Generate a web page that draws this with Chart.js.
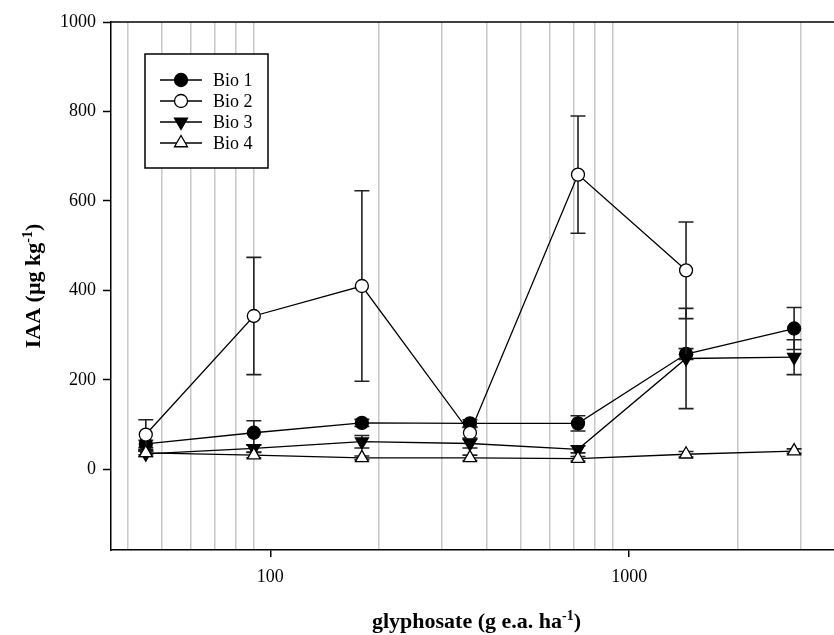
<!DOCTYPE html>
<html>
<head>
<meta charset="utf-8">
<title>IAA vs glyphosate</title>
<script src="https://cdn.jsdelivr.net/npm/chart.js@4.4.1/dist/chart.umd.min.js"></script>
<style>
  html, body { margin: 0; padding: 0; background: #fff; }
  canvas { display: block; }
</style>
</head>
<body>
<canvas id="iaaChart" width="834" height="635"></canvas>
<script>
const SERIF = '"Liberation Serif", "Times New Roman", Times, serif';

// glyphosate doses (g e.a. ha-1)
const doses = [45, 90, 180, 360, 720, 1440, 2880];

// IAA (ug kg-1) per biotype and its error
const bio1 = [57, 82, 104, 103, 103, 258, 315];
const bio1Err = [8, 27, 8, 8, 17, 12, 47];
const bio2 = [78, 343, 410, 82, 659, 445, null];
const bio2Err = [33, 131, 213, 12, 131, 108, null];
const bio3 = [35, 47, 62, 58, 45, 248, 251];
const bio3Err = [6, 8, 14, 10, 8, 112, 39];
const bio4 = [37, 32, 26, 26, 24, 34, 41];
const bio4Err = [4, 6, 4, 6, 5, 6, 5];

// axis ticks
const xGridValues = [40, 50, 60, 70, 80, 90, 100, 200, 300, 400, 500, 600, 700, 800, 900, 1000, 2000, 3000];
const xLabelValues = [100, 1000];
const yTickValues = [0, 200, 400, 600, 800, 1000];

const toPoints = values => doses.map((d, i) => ({ x: d, y: values[i] }));

function series(label, values, errors, style, filled, order) {
  return {
    label: label,
    data: toPoints(values),
    errorBars: errors,
    order: order,
    borderColor: '#000',
    borderWidth: 1.3,
    fill: false,
    tension: 0,
    pointStyle: style.shape,
    pointRotation: style.rotation,
    pointRadius: style.radius,
    pointHoverRadius: style.radius,
    pointBackgroundColor: filled ? '#000' : '#fff',
    pointBorderColor: '#000',
    pointBorderWidth: 1.3
  };
}

const circle = { shape: 'circle', rotation: 0, radius: 6.5 };
const triUp = { shape: 'triangle', rotation: 0, radius: 7.5 };
const triDown = { shape: 'triangle', rotation: 180, radius: 7.5 };

// vertical error bars, drawn just before each series so its markers sit on top
const errorBarPlugin = {
  id: 'errorBars',
  beforeDatasetDraw(chart, args) {
    const ds = chart.data.datasets[args.index];
    if (!ds.errorBars) return;
    const { ctx, scales: { x, y } } = chart;
    const cap = 7.5;
    ctx.save();
    ctx.strokeStyle = '#222';
    ctx.lineWidth = 1.6;
    ds.data.forEach((p, i) => {
      const err = ds.errorBars[i];
      if (p.y == null || err == null) return;
      const px = x.getPixelForValue(p.x);
      const top = y.getPixelForValue(p.y + err);
      const bot = y.getPixelForValue(p.y - err);
      ctx.beginPath();
      ctx.moveTo(px, top);
      ctx.lineTo(px, bot);
      ctx.moveTo(px - cap, top);
      ctx.lineTo(px + cap, top);
      ctx.moveTo(px - cap, bot);
      ctx.lineTo(px + cap, bot);
      ctx.stroke();
    });
    ctx.restore();
  }
};

// top edge of the plot frame
const framePlugin = {
  id: 'frameTop',
  afterDraw(chart) {
    const { ctx, chartArea: a } = chart;
    ctx.save();
    ctx.strokeStyle = '#000';
    ctx.lineWidth = 1.5;
    ctx.beginPath();
    ctx.moveTo(a.left, a.top);
    ctx.lineTo(a.right, a.top);
    ctx.stroke();
    ctx.restore();
  }
};

// text with a superscript part, centred on (x, y)
function drawRich(ctx, parts, x, y, size) {
  const base = 'bold ' + size + 'px ' + SERIF;
  const small = 'bold ' + Math.round(size * 0.62) + 'px ' + SERIF;
  let total = 0;
  parts.forEach(p => {
    ctx.font = p.sup ? small : base;
    p.w = ctx.measureText(p.text).width;
    total += p.w;
  });
  let cx = x - total / 2;
  ctx.textAlign = 'left';
  ctx.textBaseline = 'alphabetic';
  parts.forEach(p => {
    ctx.font = p.sup ? small : base;
    ctx.fillText(p.text, cx, p.sup ? y - size * 0.38 : y);
    cx += p.w;
  });
}

const axisTitlePlugin = {
  id: 'axisTitles',
  afterDraw(chart) {
    const { ctx, chartArea: a } = chart;
    ctx.save();
    ctx.fillStyle = '#000';
    drawRich(ctx, [
      { text: 'glyphosate (g e.a. ha' }, { text: '-1', sup: true }, { text: ')' }
    ], (a.left + a.right) / 2 + 4, 628, 22);
    ctx.translate(40, (a.top + a.bottom) / 2);
    ctx.rotate(-Math.PI / 2);
    drawRich(ctx, [
      { text: 'IAA (\u00b5g kg' }, { text: '-1', sup: true }, { text: ')' }
    ], 0, 0, 22);
    ctx.restore();
  }
};

// boxed legend in the upper-left corner of the plot
const legendBoxPlugin = {
  id: 'legendBox',
  afterDraw(chart) {
    const { ctx, chartArea: a } = chart;
    const left = a.left + 34, top = a.top + 32, w = 123, h = 114;
    ctx.save();
    ctx.fillStyle = '#fff';
    ctx.fillRect(left, top, w, h);
    ctx.strokeStyle = '#000';
    ctx.lineWidth = 1.5;
    ctx.strokeRect(left, top, w, h);
    chart.data.datasets.forEach((ds, i) => {
      const yy = top + 26 + 21 * i;
      ctx.strokeStyle = '#000';
      ctx.lineWidth = 1.3;
      ctx.beginPath();
      ctx.moveTo(left + 15, yy);
      ctx.lineTo(left + 57, yy);
      ctx.stroke();
      ctx.fillStyle = ds.pointBackgroundColor;
      Chart.helpers.drawPoint(ctx, {
        pointStyle: ds.pointStyle,
        rotation: ds.pointRotation,
        radius: ds.pointRadius,
        borderWidth: ds.pointBorderWidth
      }, left + 36, yy);
      ctx.fillStyle = '#000';
      ctx.font = '18px ' + SERIF;
      ctx.textAlign = 'left';
      ctx.textBaseline = 'middle';
      ctx.fillText(ds.label, left + 68, yy + 1);
    });
    ctx.restore();
  }
};

const isLabelled = v => xLabelValues.includes(v);

new Chart(document.getElementById('iaaChart'), {
  type: 'line',
  data: {
    datasets: [
      series('Bio 1', bio1, bio1Err, circle, true, 4),
      series('Bio 2', bio2, bio2Err, circle, false, 3),
      series('Bio 3', bio3, bio3Err, triDown, true, 2),
      series('Bio 4', bio4, bio4Err, triUp, false, 1)
    ]
  },
  options: {
    responsive: false,
    animation: false,
    devicePixelRatio: 1,
    layout: { autoPadding: false, padding: { top: 22, right: 0, left: 0, bottom: 0 } },
    plugins: {
      legend: { display: false },
      tooltip: { enabled: false }
    },
    scales: {
      x: {
        type: 'logarithmic',
        min: 36,
        max: 3720,
        bounds: 'data',
        afterBuildTicks: scale => { scale.ticks = xGridValues.map(v => ({ value: v })); },
        afterFit: scale => { scale.height = 85; },
        ticks: {
          autoSkip: false,
          maxRotation: 0,
          padding: 9,
          color: '#000',
          font: { family: SERIF, size: 18 },
          callback: v => (isLabelled(v) ? String(v) : '')
        },
        grid: {
          color: ctx => (isLabelled(ctx.tick.value) ? 'rgba(0,0,0,0)' : '#c8c8c8'),
          lineWidth: 1.5,
          tickColor: ctx => (isLabelled(ctx.tick.value) ? '#000' : 'rgba(0,0,0,0)'),
          tickLength: 7,
          tickWidth: 1.5
        },
        border: { color: '#000', width: 1.5 }
      },
      y: {
        type: 'linear',
        min: -180,
        max: 1000,
        afterBuildTicks: scale => { scale.ticks = yTickValues.map(v => ({ value: v })); },
        afterFit: scale => { scale.width = 111; },
        ticks: {
          padding: 7,
          color: '#000',
          font: { family: SERIF, size: 18 },
          callback: v => String(v)
        },
        grid: {
          color: 'rgba(0,0,0,0)',
          tickColor: '#000',
          tickLength: 8,
          tickWidth: 1.5
        },
        border: { color: '#000', width: 1.5 }
      }
    }
  },
  plugins: [errorBarPlugin, framePlugin, axisTitlePlugin, legendBoxPlugin]
});
</script>
</body>
</html>
